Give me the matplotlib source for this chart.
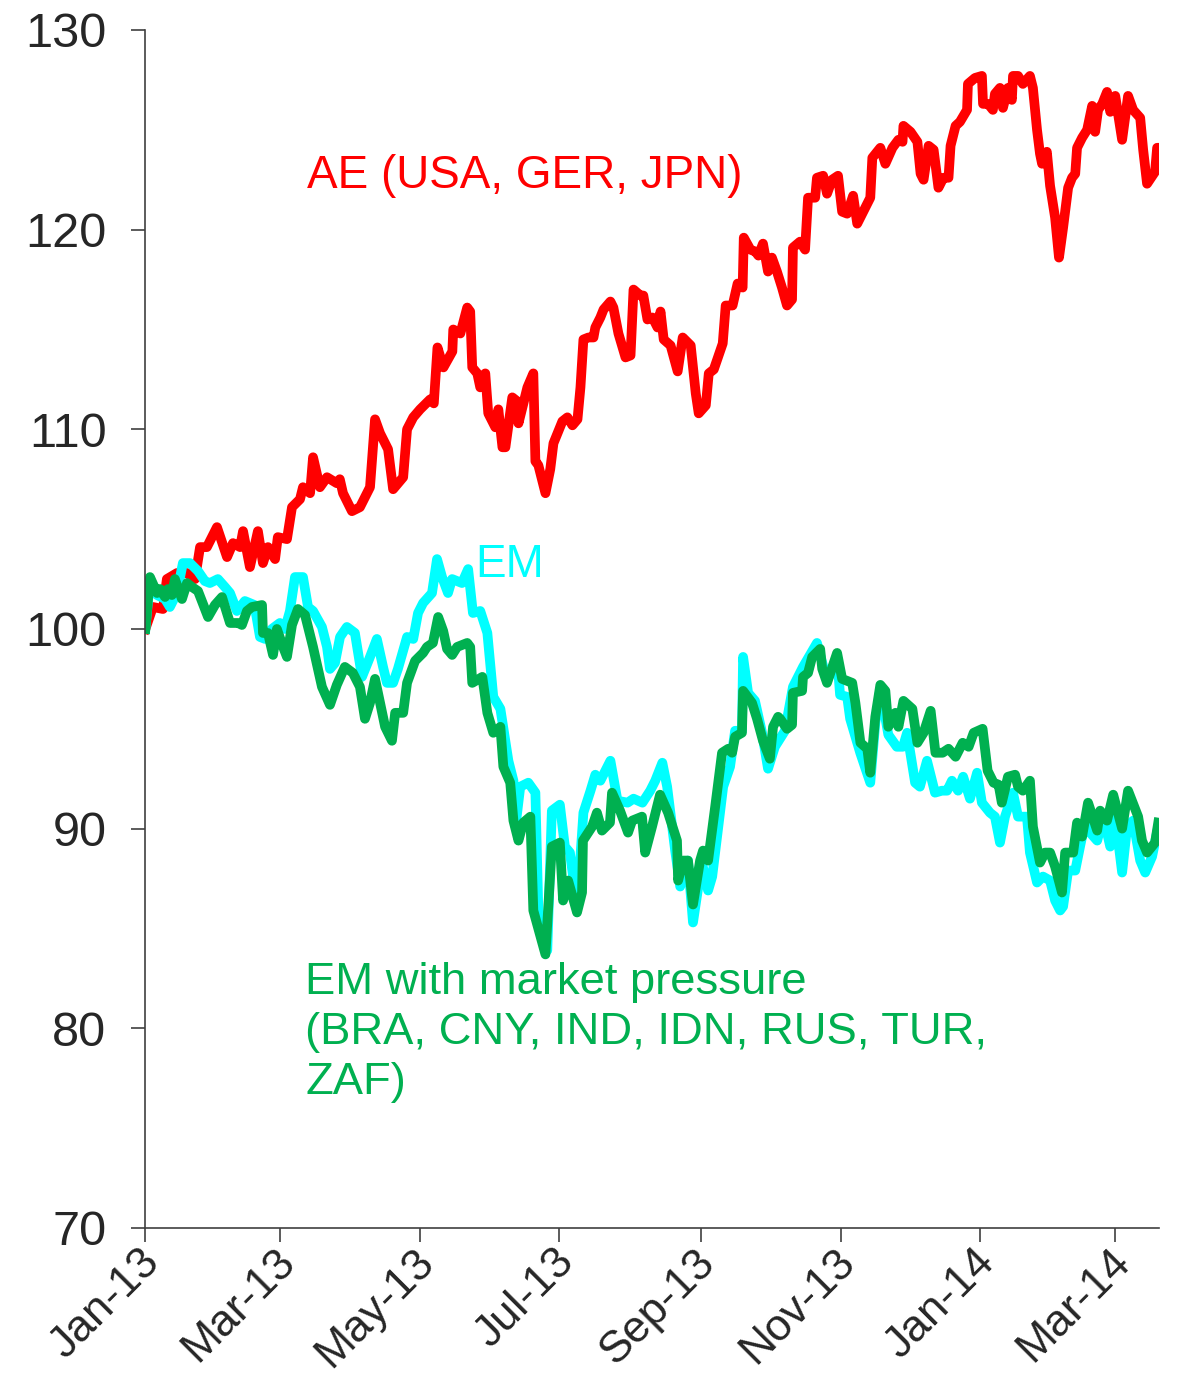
import numpy as np
import pandas as pd
import matplotlib
matplotlib.use("Agg")
import matplotlib.pyplot as plt
import matplotlib.dates as mdates
from matplotlib.transforms import ScaledTranslation

plt.rcParams['font.family'] = ['Liberation Sans', 'DejaVu Sans']

# days since 1 Jan 2013, index values (start = 100)
ae_days = [0, 3.3, 7.7, 9.4, 13.8, 18.2, 21.7, 23.9, 26.9, 31.3, 35.7, 38.3, 41.4, 42.7, 45.7, 49.2,
           51.4, 53.6, 56.7, 57.9, 61.9, 64.1, 67.6, 68.9, 72.0, 73.3, 76.3, 79.4, 83.7, 85.0, 86.4,
           90.3, 93.8, 98.2, 100.4, 102.6, 106.1, 108.3, 112.7, 114.4, 117.1, 120.1, 124.5, 126.1,
           127.7, 130.3, 134.2, 134.6, 137.7, 140.7, 142.0, 142.9, 145.1, 146.4, 148.6, 149.9, 153.0,
           154.3, 156.1, 157.4, 160.4, 162.6, 163.1, 167.0, 169.6, 170.5, 171.8, 174.9, 177.0, 178.4,
           182.3, 184.5, 186.7, 188.9, 190.2, 191.5, 193.7, 195.9, 196.7, 198.9, 200.3, 203.3, 204.6,
           206.8, 209.9, 212.1, 213.4, 216.4, 217.7, 219.5, 221.7, 223.9, 225.2, 226.6, 229.6, 232.7,
           234.9, 238.4, 240.6, 241.9, 245.0, 246.3, 248.5, 252.4, 253.7, 256.7, 258.9, 261.1, 261.6,
           264.5, 266.7, 268.0, 270.0, 272.2, 273.9, 276.1, 278.3, 280.5, 282.7, 283.1, 286.2, 288.4,
           289.7, 292.8, 293.6, 296.3, 298.0, 300.2, 302.8, 304.6, 306.8, 309.4, 311.2, 314.7, 316.9,
           317.8, 321.3, 323.5, 326.6, 329.2, 331.0, 331.4, 334.5, 337.5, 338.9, 340.2, 342.4, 344.6,
           346.7, 348.9, 351.1, 352.0, 354.2, 356.1, 359.2, 359.6, 362.7, 365.7, 366.2, 368.4, 370.5,
           371.4, 373.6, 374.9, 377.1, 378.8, 379.3, 381.5, 383.6, 386.7, 388.0, 389.8, 391.1, 392.0,
           394.1, 395.5, 397.7, 399.4, 401.2, 403.4, 405.1, 406.5, 407.3, 409.5, 411.7, 413.9, 415.2,
           416.5, 418.3, 420.4, 421.8, 424.0, 427.0, 429.6, 431.8, 434.9, 436.2, 437.9, 441.4, 442.3,
           443.6]
ae_vals = [100.0, 101.1, 101.0, 102.5, 102.8, 102.8, 102.5, 104.1, 104.1, 105.1, 103.6, 104.3, 104.1,
           104.9, 103.1, 104.9, 103.3, 104.1, 103.5, 104.6, 104.5, 106.1, 106.5, 107.1, 106.8, 108.6,
           107.1, 107.6, 107.3, 107.5, 106.8, 105.9, 106.1, 107.1, 110.5, 109.8, 109.0, 107.0, 107.6,
           110.0, 110.6, 111.0, 111.5, 111.3, 114.1, 113.1, 113.9, 115.0, 114.8, 116.1, 115.9, 113.1,
           112.8, 112.1, 112.8, 110.8, 110.1, 111.0, 109.1, 109.1, 111.6, 111.4, 110.3, 112.1, 112.8,
           108.4, 108.2, 106.8, 108.0, 109.3, 110.4, 110.6, 110.2, 110.5, 112.1, 114.5, 114.6, 114.6,
           115.1, 115.6, 116.0, 116.4, 116.1, 114.8, 113.6, 113.7, 117.0, 116.7, 116.7, 115.5, 115.6,
           115.1, 115.9, 114.5, 114.2, 112.9, 114.6, 114.2, 111.8, 110.8, 111.2, 112.8, 113.0, 114.3,
           116.2, 116.2, 117.3, 117.1, 119.6, 119.0, 118.9, 118.7, 119.3, 117.9, 118.6, 117.9, 117.1,
           116.2, 116.5, 119.1, 119.4, 119.0, 121.6, 121.6, 122.6, 122.7, 121.8, 122.5, 122.7, 120.9,
           120.8, 121.7, 120.3, 121.1, 121.6, 123.6, 124.1, 123.3, 124.1, 124.5, 124.4, 125.2, 124.9,
           124.4, 122.8, 122.5, 124.2, 124.0, 122.1, 122.6, 122.6, 124.2, 125.2, 125.4, 126.0, 127.3,
           127.6, 127.7, 126.3, 126.3, 126.0, 126.8, 127.1, 126.1, 127.1, 126.5, 127.7, 127.7, 127.3,
           127.7, 127.1, 125.0, 123.8, 123.3, 123.9, 122.2, 120.6, 118.6, 120.1, 122.1, 122.6, 122.8,
           124.1, 124.6, 125.0, 126.2, 124.9, 126.0, 126.3, 126.9, 125.9, 126.7, 124.5, 126.7, 126.0,
           125.6, 124.0, 122.3, 122.9, 124.1, 124.1]

em_days = [0, 2.0, 5.1, 8.6, 10.7, 13.8, 16.4, 19.5, 23.0, 26.0, 28.2, 31.7, 34.8, 37.0, 40.0, 43.5,
           47.7, 50.1, 52.3, 55.3, 58.8, 61.0, 63.2, 65.4, 68.9, 71.1, 73.3, 77.2, 79.4, 80.7, 82.9,
           85.1, 88.1, 91.6, 94.7, 98.2, 101.2, 103.9, 105.6, 108.3, 110.4, 114.4, 117.1, 119.2, 121.4,
           125.3, 127.5, 129.7, 132.3, 134.1, 138.4, 141.1, 143.2, 146.4, 149.5, 152.1, 155.2, 158.7,
           160.9, 161.8, 163.9, 167.4, 170.5, 171.8, 175.7, 177.7, 181.2, 183.4, 185.6, 188.7, 191.5,
           194.6, 196.7, 198.9, 203.3, 206.4, 210.8, 213.4, 217.3, 220.7, 222.9, 226.0, 228.1, 231.6,
           233.8, 237.2, 239.4, 243.3, 246.0, 247.8, 252.6, 255.6, 257.8, 260.8, 261.3, 263.5, 266.5,
           269.6, 272.2, 275.2, 279.6, 283.1, 287.5, 293.6, 298.0, 302.4, 303.7, 306.8, 308.1, 312.5,
           316.9, 319.1, 321.3, 324.8, 328.5, 331.2, 333.0, 336.5, 338.6, 341.7, 345.2, 348.2, 350.5,
           352.6, 355.3, 357.5, 360.5, 363.6, 365.7, 369.2, 371.4, 373.6, 375.8, 379.3, 381.5, 385.4,
           386.7, 389.8, 392.4, 395.5, 397.7, 399.9, 401.2, 403.4, 406.5, 408.6, 410.8, 413.0, 416.1,
           418.8, 421.8, 424.0, 427.0, 429.2, 431.8, 434.9, 437.1, 440.1, 442.8]
em_vals = [100.0, 102.4, 101.7, 101.5, 101.1, 101.8, 103.3, 103.3, 102.9, 102.4, 102.3, 102.5, 102.1,
           101.8, 100.9, 101.4, 101.2, 99.6, 99.5, 100.0, 100.3, 100.0, 100.9, 102.6, 102.6, 101.1,
           100.9, 100.1, 99.1, 98.0, 98.3, 99.6, 100.1, 99.8, 97.6, 98.6, 99.5, 98.1, 97.3, 97.3, 98.0,
           99.6, 99.5, 100.8, 101.3, 101.8, 103.5, 102.6, 101.8, 102.5, 102.3, 103.0, 100.8, 100.9,
           99.8, 96.6, 96.0, 93.4, 92.4, 90.1, 92.1, 92.3, 91.8, 85.9, 83.9, 90.9, 91.2, 89.1, 88.8,
           86.1, 90.8, 91.9, 92.7, 92.4, 93.4, 91.4, 91.3, 91.5, 91.3, 91.9, 92.4, 93.3, 92.1, 88.9,
           87.1, 88.4, 85.3, 88.3, 86.9, 87.6, 92.1, 93.1, 94.9, 94.9, 98.6, 96.8, 96.4, 94.8, 93.0,
           94.1, 94.9, 97.1, 98.1, 99.3, 97.4, 98.6, 96.7, 96.6, 95.5, 93.8, 92.3, 95.3, 97.0, 94.7,
           94.1, 94.1, 94.8, 92.3, 92.1, 93.4, 91.8, 91.9, 91.9, 92.4, 91.9, 92.6, 91.5, 92.8, 91.3,
           90.8, 90.6, 89.3, 90.6, 91.8, 90.6, 90.6, 88.8, 87.3, 87.6, 87.4, 86.4, 85.9, 86.1, 87.9,
           87.9, 89.1, 90.3, 89.8, 89.4, 90.6, 89.1, 90.6, 87.8, 90.1, 90.4, 88.4, 87.8, 88.6, 90.1]

emp_days = [0, 2.0, 5.1, 6.4, 8.6, 9.9, 11.6, 12.9, 16.0, 18.2, 20.4, 23.0, 27.4, 30.4, 33.5, 37.0,
            40.5, 42.2, 44.4, 46.6, 51.0, 51.4, 53.6, 55.8, 57.5, 60.2, 61.9, 64.1, 66.7, 69.8, 73.3,
            77.2, 80.7, 83.7, 87.2, 90.7, 93.8, 96.0, 98.2, 100.4, 102.6, 104.8, 107.8, 109.2, 112.7,
            114.4, 117.9, 121.4, 123.1, 125.7, 128.0, 130.2, 131.9, 134.1, 136.3, 140.7, 142.0, 142.9,
            147.3, 149.5, 152.1, 155.2, 156.5, 159.5, 160.9, 163.1, 165.2, 168.3, 169.6, 174.9, 177.7,
            181.2, 182.6, 184.8, 188.7, 190.9, 191.3, 195.3, 197.4, 199.6, 203.1, 204.0, 207.5, 211.0,
            212.8, 217.1, 218.5, 221.5, 225.0, 228.5, 232.4, 232.9, 235.1, 237.2, 239.4, 242.5, 243.8,
            246.0, 249.1, 252.1, 254.8, 256.5, 257.8, 260.8, 261.3, 265.2, 267.4, 270.0, 273.0, 274.4,
            276.6, 277.5, 280.5, 282.7, 283.1, 287.1, 287.5, 289.7, 291.5, 295.0, 295.9, 298.0, 302.4,
            304.6, 309.0, 310.4, 312.6, 315.6, 316.9, 319.1, 321.3, 323.5, 324.8, 327.9, 329.2, 331.4,
            335.3, 337.5, 340.2, 343.3, 345.4, 348.5, 351.1, 354.2, 357.3, 359.9, 362.1, 366.0, 368.2,
            370.8, 373.0, 374.4, 377.1, 380.2, 381.5, 383.6, 386.7, 388.0, 391.1, 393.3, 395.5, 397.7,
            400.7, 402.1, 405.6, 407.3, 409.5, 412.1, 416.1, 417.4, 420.4, 423.1, 427.0, 429.6, 434.0,
            435.7, 437.9, 441.4, 442.8]
emp_vals = [100.0, 102.6, 101.8, 102.0, 101.6, 102.0, 101.7, 102.5, 101.5, 102.3, 102.1, 101.9, 100.6,
            101.2, 101.6, 100.3, 100.3, 100.2, 100.9, 101.1, 101.2, 99.8, 99.8, 98.7, 100.0, 99.1, 98.6,
            100.2, 101.0, 100.7, 99.1, 97.1, 96.2, 97.2, 98.1, 97.8, 97.1, 95.5, 96.3, 97.5, 96.3, 95.1,
            94.4, 95.8, 95.8, 97.3, 98.4, 98.8, 99.1, 99.3, 100.6, 99.9, 99.0, 98.7, 99.1, 99.3, 99.1,
            97.3, 97.6, 95.8, 94.8, 95.1, 93.1, 92.3, 90.4, 89.4, 90.3, 90.6, 85.9, 83.7, 89.1, 89.3,
            86.4, 87.4, 85.8, 86.8, 89.4, 90.1, 90.8, 89.9, 90.3, 91.8, 90.9, 89.8, 90.4, 90.6, 88.8,
            90.1, 91.7, 90.8, 89.4, 87.4, 88.4, 88.4, 86.2, 88.4, 88.9, 88.4, 91.1, 93.8, 94.0, 93.8,
            94.6, 94.8, 96.9, 96.3, 95.5, 94.4, 93.5, 95.1, 95.6, 95.5, 95.0, 95.2, 96.8, 96.9, 97.6,
            97.8, 98.6, 99.0, 98.0, 97.3, 98.8, 97.5, 97.3, 96.3, 94.3, 94.0, 92.8, 95.6, 97.2, 96.9,
            95.1, 95.8, 95.1, 96.4, 96.0, 94.3, 94.8, 95.9, 93.8, 93.8, 94.0, 93.6, 94.3, 94.1, 94.8,
            95.0, 92.9, 92.3, 92.2, 91.3, 92.6, 92.7, 92.1, 91.9, 92.4, 90.1, 88.3, 88.8, 88.8, 88.1,
            86.8, 88.8, 88.8, 90.3, 89.6, 91.3, 89.9, 90.9, 90.4, 91.7, 90.0, 91.9, 90.6, 89.4, 88.8,
            89.3, 90.3]

start = pd.Timestamp('2013-01-01')


def to_dates(days):
    return start + pd.to_timedelta(np.array(days), unit='D')


fig = plt.figure(figsize=(11.79, 13.76), dpi=100)
ax = fig.add_axes([0.1233, 0.1076, 0.8595, 0.8706])

ax.plot(to_dates(ae_days), ae_vals, color='#FF0000', lw=7, solid_joinstyle='round')
ax.plot(to_dates(em_days), em_vals, color='#00FFFF', lw=7, solid_joinstyle='round')
ax.plot(to_dates(emp_days), emp_vals, color='#00B050', lw=7, solid_joinstyle='round')

ax.set_ylim(70, 130)
ax.set_yticks(range(70, 131, 10))
ax.set_xlim(start, start + pd.Timedelta(days=443))
ax.xaxis.set_major_locator(mdates.MonthLocator(bymonth=[1, 3, 5, 7, 9, 11]))
ax.xaxis.set_major_formatter(mdates.DateFormatter('%b-%y'))

for s in ['top', 'right']:
    ax.spines[s].set_visible(False)
for s in ['left', 'bottom']:
    ax.spines[s].set_color('#404040')
    ax.spines[s].set_linewidth(1.2)

ax.tick_params(axis='y', length=10, width=1.2, color='#404040', labelsize=35, pad=18,
               labelcolor='#262626')
ax.tick_params(axis='x', length=10, width=1.2, color='#404040', labelsize=32, pad=10,
               labelcolor='#262626')
shift = ScaledTranslation(8 / 100, 0, fig.dpi_scale_trans)
for tick in ax.xaxis.get_major_ticks():
    lbl = tick.label1
    lbl.set_rotation(45)
    lbl.set_ha('right')
    lbl.set_va('center')
    lbl.set_rotation_mode('anchor')
    lbl.set_transform(lbl.get_transform() + shift)

ax.text(start + pd.Timedelta(days=70.6), 122.7, 'AE (USA, GER, JPN)', color='#FF0000',
        fontsize=33, va='center', ha='left')
ax.text(start + pd.Timedelta(days=144), 103.2, 'EM', color='#00FFFF',
        fontsize=33, va='center', ha='left')
ax.text(start + pd.Timedelta(days=69.8), 79.8,
        'EM with market pressure\n(BRA, CNY, IND, IDN, RUS, TUR,\nZAF)',
        color='#00B050', fontsize=32.7, va='center', ha='left', linespacing=1.28)

fig.savefig('out.png', dpi=100)
